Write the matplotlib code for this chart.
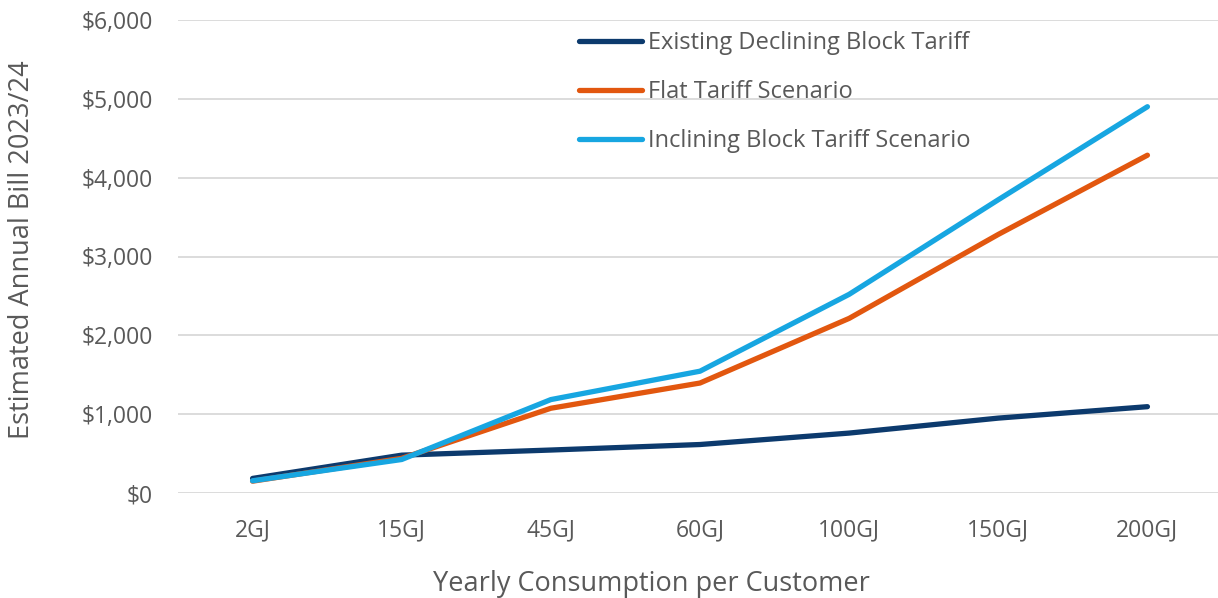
import matplotlib.pyplot as plt
from matplotlib.ticker import FuncFormatter

# Estimated annual bill by yearly consumption, three tariff structures
categories = ["2GJ", "15GJ", "45GJ", "60GJ", "100GJ", "150GJ", "200GJ"]
existing_declining = [185, 480, 545, 615, 760, 950, 1095]
flat_tariff = [150, 440, 1075, 1395, 2215, 3280, 4285]
inclining_block = [155, 425, 1185, 1545, 2520, 3720, 4900]

series = [
    ("Existing Declining Block Tariff", existing_declining, "#0c3a6d"),
    ("Flat Tariff Scenario", flat_tariff, "#e2570f"),
    ("Inclining Block Tariff Scenario", inclining_block, "#17a6e1"),
]

text_color = "#595959"
plt.rcParams['font.family'] = ['Open Sans', 'DejaVu Sans']

W, H = 1218, 598
fig = plt.figure(figsize=(W / 100, H / 100), dpi=100)
ax_left, ax_right, ax_top, ax_bottom = 178, 1222, 20, 493
ax = fig.add_axes([ax_left / W, (H - ax_bottom) / H,
                   (ax_right - ax_left) / W, (ax_bottom - ax_top) / H])

x = range(len(categories))
for label, values, color in series:
    ax.plot(x, values, color=color, lw=3.8, label=label,
            solid_capstyle='round', solid_joinstyle='round', zorder=3)

ax.set_xlim(-0.5, len(categories) - 0.5)
ax.set_ylim(0, 6000)
ax.set_yticks(range(0, 6001, 1000))
ax.yaxis.set_major_formatter(FuncFormatter(lambda v, p: f"${v:,.0f}"))
ax.set_xticks(list(x))
ax.set_xticklabels(categories)

ax.grid(axis='y', color='#d9d9d9', lw=1.3)
ax.set_axisbelow(True)
for s in ax.spines.values():
    s.set_visible(False)
ax.tick_params(length=0, labelsize=16.5, colors=text_color)
ax.tick_params(axis='y', pad=18)
ax.tick_params(axis='x', pad=18)

ax.set_ylabel("Estimated Annual Bill 2023/24", fontsize=19.5, color=text_color)
ax.set_xlabel("Yearly Consumption per Customer", fontsize=19.5, color=text_color)
# label placement in axes fractions (computed from pixel positions)
ax.yaxis.set_label_coords((36 - ax_left) / (ax_right - ax_left),
                           (ax_bottom - 250) / (ax_bottom - ax_top))
ax.xaxis.set_label_coords((651 - ax_left) / (ax_right - ax_left),
                          (ax_bottom - 570) / (ax_bottom - ax_top))

leg = ax.legend(loc='upper left', bbox_to_anchor=(570 / W, 1 - 22 / H),
                bbox_transform=fig.transFigure, frameon=False, fontsize=17,
                handlelength=2.65, handletextpad=0.25, labelspacing=1.05,
                borderaxespad=0)
for t in leg.get_texts():
    t.set_color(text_color)

fig.savefig("out.png", dpi=100)
